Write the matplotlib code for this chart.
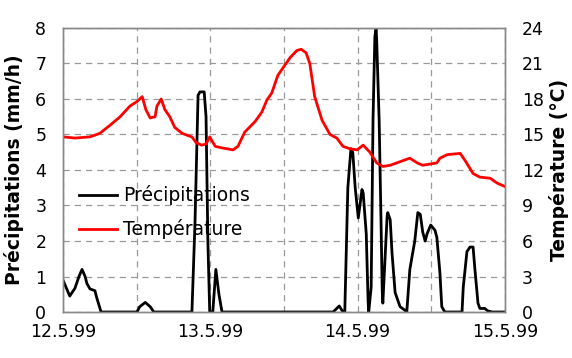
import matplotlib
matplotlib.use("Agg")
import matplotlib.pyplot as plt

# hours since 12.5.99 00:00
precip_hours = [0.0, 1.1, 1.95, 2.6, 3.1, 3.6, 3.9, 4.4, 5.2, 5.5, 6.2,
                12.05, 12.5, 13.4, 14.2, 14.8,
                21.0, 21.5, 22.0, 22.3, 23.0, 23.3, 23.6, 23.9, 24.4, 24.9, 25.4, 25.9,
                44.0, 45.0, 45.6, 45.9, 46.4, 46.9, 47.2, 47.6, 48.1, 48.7, 48.9, 49.4,
                49.7, 49.8, 50.2, 50.5, 50.8, 51.0, 51.1, 51.5, 51.8, 52.0, 52.1, 52.5,
                52.8, 52.9, 53.3, 53.6, 54.1, 54.9, 55.7, 56.0, 56.5, 57.3, 57.8, 58.2,
                58.6, 59.0, 59.3, 59.9, 60.6, 60.9, 61.4, 61.7, 62.2,
                65.0, 65.2, 65.8, 66.3, 66.8, 67.1, 67.6, 67.9, 68.7, 69.2, 69.9, 72.0]
precip_values = [0.9, 0.45, 0.67, 1.0, 1.2, 1.0, 0.8, 0.65, 0.6, 0.4, 0.0,
                 0.0, 0.15, 0.27, 0.15, 0.0,
                 0.0, 2.5, 6.1, 6.2, 6.2, 5.5, 2.0, 0.0, 0.0, 1.2, 0.5, 0.0,
                 0.0, 0.17, 0.0, 0.0, 3.5, 4.6, 4.5, 3.5, 2.65, 3.45, 3.35, 2.2,
                 0.3, 0.0, 0.7, 5.4, 7.75, 8.0, 7.65, 5.4, 2.6, 0.6, 0.25, 1.65,
                 2.7, 2.8, 2.6, 1.65, 0.55, 0.15, 0.05, 0.0, 1.2, 2.0, 2.8, 2.75,
                 2.25, 2.0, 2.2, 2.45, 2.3, 2.1, 1.1, 0.15, 0.0,
                 0.0, 0.7, 1.7, 1.83, 1.83, 1.2, 0.25, 0.1, 0.1, 0.03, 0.0, 0.0]

temp_hours = [0.0, 1.95, 4.4, 6.0, 7.7, 9.3, 10.9, 12.1, 12.9, 13.5, 14.2, 15.0, 15.3,
              16.0, 16.6, 17.4, 18.2, 19.4, 20.4, 21.0, 21.7, 22.6, 23.3, 23.9, 24.8,
              25.6, 27.7, 28.5, 29.6, 31.3, 32.4, 33.2, 34.0, 35.0, 35.8, 37.0, 38.1,
              38.8, 39.6, 40.2, 41.0, 42.2, 43.5, 44.6, 45.6, 46.7, 47.9, 48.9, 50.0,
              51.1, 52.1, 53.3, 54.9, 56.5, 57.7, 58.6, 60.9, 61.4, 62.6, 64.7, 65.5,
              66.8, 67.9, 69.6, 70.7, 72.0]
temp_values = [14.8, 14.7, 14.8, 15.1, 15.8, 16.5, 17.4, 17.8, 18.2, 17.1, 16.4, 16.5, 17.4,
               18.0, 17.1, 16.5, 15.6, 15.1, 14.9, 14.8, 14.3, 14.1, 14.2, 14.8, 14.0,
               13.9, 13.7, 14.0, 15.2, 16.1, 16.9, 17.9, 18.5, 20.0, 20.6, 21.5, 22.1,
               22.2, 21.9, 21.0, 18.2, 16.2, 15.0, 14.7, 14.0, 13.8, 13.7, 14.1, 13.5,
               12.6, 12.3, 12.4, 12.7, 13.0, 12.6, 12.4, 12.6, 13.0, 13.3, 13.4, 12.8,
               11.7, 11.4, 11.3, 10.9, 10.6]

x_ticks = [0, 12, 24, 36, 48, 60, 72]
x_labels = ["12.5.99", "", "13.5.99", "", "14.5.99", "", "15.5.99"]
left_ticks = [0, 1, 2, 3, 4, 5, 6, 7, 8]
right_ticks = [0, 3, 6, 9, 12, 15, 18, 21, 24]

plt.rcParams['font.family'] = ['DejaVu Sans']

fig = plt.figure(figsize=(5.72, 3.58), dpi=100)
ax = fig.add_axes([63/572, 1-312/358, 442/572, 284/358])
ax2 = ax.twinx()

l1, = ax.plot(precip_hours, precip_values, color='black', lw=2.0, label='Précipitations')
l2, = ax2.plot(temp_hours, temp_values, color='#ff0000', lw=2.0, label='Température')

ax.set_xlim(0, 72)
ax.set_ylim(0, 8)
ax2.set_ylim(0, 24)
ax.set_xticks(x_ticks)
ax.set_xticklabels(x_labels)
ax.set_yticks(left_ticks)
ax2.set_yticks(right_ticks)

ax.grid(True, color='#999999', linestyle=(0, (5, 4)), lw=0.9)
ax.set_axisbelow(True)
for a in (ax, ax2):
    for s in a.spines.values():
        s.set_color('#888888')
        s.set_linewidth(1.0)
ax.tick_params(axis='both', length=0, labelsize=12.5)
ax.tick_params(axis='x', pad=8)
ax.tick_params(axis='y', pad=12)
ax2.tick_params(axis='y', length=0, labelsize=12.5, pad=12)

ax.set_ylabel('Précipitations (mm/h)', fontsize=13.5, fontweight='bold')
ax.yaxis.set_label_coords(-0.088, 0.5)
ax2.set_ylabel('Température (°C)', fontsize=13.5, fontweight='bold', rotation=90)
ax2.yaxis.set_label_coords(1.10, 0.5)

leg = ax.legend(handles=[l1, l2], loc='upper left', bbox_to_anchor=(0.011, 0.486),
                frameon=False, fontsize=13.5, handlelength=2.0, handletextpad=0.35,
                labelspacing=0.75, borderaxespad=0.3, borderpad=0.3)

fig.savefig('out.png', dpi=100)
